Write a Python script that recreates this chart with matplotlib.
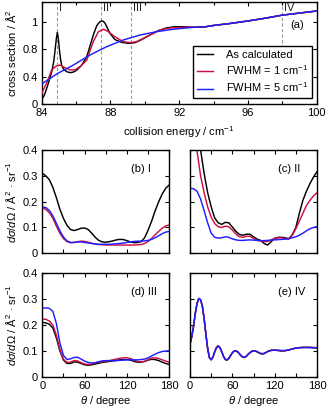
import matplotlib
matplotlib.use("Agg")
import matplotlib.pyplot as plt
from matplotlib.ticker import MultipleLocator

plt.rcParams['font.family'] = ['Liberation Sans', 'DejaVu Sans']
plt.rcParams['font.size'] = 8
plt.rcParams['mathtext.fontset'] = 'custom'
plt.rcParams['mathtext.rm'] = 'Liberation Sans'
plt.rcParams['mathtext.it'] = 'Liberation Sans:italic'

BLACK = '#000000'
RED = '#cc1040'
BLUE = '#1e1eff'

# ---------------- panel (a) data ----------------
e_black = [84.0, 84.15, 84.29, 84.45, 84.58, 84.7, 84.78, 84.85, 84.91, 84.97, 85.03, 85.1, 85.16,
           85.25, 85.36, 85.5, 85.65, 85.8, 85.94, 86.1, 86.33, 86.62, 86.91, 87.05, 87.2, 87.35,
           87.47, 87.58, 87.68, 87.8, 87.97, 88.26, 88.65, 89.04, 89.43, 89.82, 90.3, 90.79, 91.27,
           91.76, 92.24, 92.82, 93.5, 94, 95, 96, 97, 98, 99, 100]
cs_black = [0.07, 0.13, 0.23, 0.36, 0.47, 0.62, 0.79, 0.95, 1.045, 0.95, 0.79, 0.65, 0.57,
            0.52, 0.49, 0.47, 0.46, 0.465, 0.48, 0.51, 0.57, 0.69, 0.93, 1.04, 1.14, 1.19,
            1.21, 1.205, 1.18, 1.12, 1.03, 0.94, 0.90, 0.885, 0.895, 0.94, 1.006, 1.07, 1.11,
            1.127, 1.127, 1.118, 1.125, 1.145, 1.175, 1.21, 1.25, 1.295, 1.325, 1.355]
e_red = [84.0, 84.29, 84.58, 84.85, 85.07, 85.36, 85.65, 85.94, 86.23, 86.62, 86.8, 87.0, 87.3,
         87.6, 87.88, 88.26, 88.75, 89.14, 89.53, 89.92, 90.4, 90.88, 91.45, 92.24, 92.82, 93.5,
         94, 95, 96, 97, 98, 99, 100]
cs_red = [0.16, 0.31, 0.5, 0.556, 0.57, 0.53, 0.5, 0.5, 0.547, 0.64, 0.77, 0.91, 1.055,
          1.09, 1.055, 0.98, 0.91, 0.895, 0.91, 0.96, 1.02, 1.08, 1.108, 1.118, 1.118, 1.125,
          1.145, 1.175, 1.21, 1.25, 1.295, 1.325, 1.355]
e_blue = [84, 84.87, 85.84, 86.81, 87.78, 88.75, 89.72, 90.69, 91.66, 92.82, 93.5, 94, 95, 96,
          97, 98, 99, 100]
cs_blue = [0.295, 0.44, 0.57, 0.716, 0.837, 0.934, 1.006, 1.055, 1.09, 1.118, 1.125, 1.145,
           1.175, 1.21, 1.25, 1.295, 1.325, 1.355]

marker_energies = [84.91, 87.47, 89.18, 97.98]
marker_names = ['I', 'II', 'III', 'IV']

a_yticks = [0, 0.4, 0.8, 1.2]
a_yticklabels = ['0', '0.4', '0.8', '1']
a_xticks = [84, 88, 92, 96, 100]

legend_labels = ['As calculated', 'FWHM = 1 cm$^{-1}$', 'FWHM = 5 cm$^{-1}$']

# ---------------- lower panels data ----------------
theta = list(range(0, 181, 5))

b_black = [0.31, 0.30, 0.285, 0.255, 0.215, 0.17, 0.135, 0.108, 0.092, 0.088, 0.092, 0.097, 0.098,
           0.092, 0.078, 0.062, 0.05, 0.044, 0.043, 0.045, 0.048, 0.052, 0.054, 0.053, 0.049, 0.044,
           0.041, 0.042, 0.045, 0.06, 0.09, 0.125, 0.165, 0.2, 0.23, 0.252, 0.265]
b_red = [0.175, 0.17, 0.157, 0.135, 0.105, 0.077, 0.057, 0.045, 0.041, 0.042, 0.045, 0.047, 0.046,
         0.043, 0.039, 0.036, 0.034, 0.033, 0.032, 0.032, 0.032, 0.032, 0.032, 0.032, 0.032, 0.032,
         0.032, 0.033, 0.034, 0.038, 0.046, 0.058, 0.072, 0.085, 0.097, 0.106, 0.11]
b_blue = [0.18, 0.177, 0.166, 0.145, 0.116, 0.087, 0.063, 0.048, 0.042, 0.042, 0.044, 0.044, 0.042,
          0.04, 0.038, 0.036, 0.035, 0.035, 0.035, 0.035, 0.036, 0.037, 0.038, 0.04, 0.042, 0.044,
          0.046, 0.047, 0.047, 0.048, 0.05, 0.054, 0.06, 0.068, 0.076, 0.082, 0.085]

c_black = [0.62, 0.58, 0.5, 0.4, 0.31, 0.235, 0.18, 0.137, 0.118, 0.112, 0.12, 0.118, 0.102,
           0.085, 0.073, 0.07, 0.074, 0.074, 0.064, 0.055, 0.05, 0.038, 0.032, 0.045, 0.058, 0.062,
           0.062, 0.06, 0.056, 0.072, 0.1, 0.155, 0.205, 0.24, 0.27, 0.295, 0.316]
c_red = [0.55, 0.48, 0.395, 0.3, 0.235, 0.18, 0.14, 0.115, 0.103, 0.1, 0.105, 0.103, 0.09,
         0.075, 0.064, 0.062, 0.066, 0.066, 0.058, 0.05, 0.048, 0.045, 0.046, 0.052, 0.058, 0.06,
         0.06, 0.057, 0.055, 0.07, 0.095, 0.125, 0.155, 0.185, 0.205, 0.222, 0.235]
c_blue = [0.252, 0.25, 0.24, 0.21, 0.165, 0.118, 0.078, 0.062, 0.059, 0.06, 0.064, 0.062, 0.056,
          0.052, 0.05, 0.05, 0.051, 0.052, 0.051, 0.05, 0.049, 0.049, 0.05, 0.051, 0.052, 0.053,
          0.054, 0.055, 0.057, 0.06, 0.064, 0.07, 0.078, 0.087, 0.095, 0.1, 0.103]

d_black = [0.21, 0.208, 0.203, 0.188, 0.15, 0.1, 0.065, 0.052, 0.052, 0.058, 0.057, 0.052, 0.047,
           0.045, 0.047, 0.05, 0.053, 0.056, 0.058, 0.06, 0.062, 0.064, 0.066, 0.067, 0.067, 0.065,
           0.06, 0.057, 0.057, 0.06, 0.065, 0.068, 0.067, 0.063, 0.057, 0.052, 0.048]
d_red = [0.223, 0.222, 0.215, 0.2, 0.16, 0.105, 0.068, 0.056, 0.057, 0.063, 0.062, 0.055, 0.05,
         0.048, 0.05, 0.054, 0.057, 0.059, 0.061, 0.063, 0.066, 0.069, 0.072, 0.074, 0.074, 0.071,
         0.065, 0.06, 0.058, 0.06, 0.067, 0.073, 0.074, 0.071, 0.066, 0.061, 0.057]
d_blue = [0.265, 0.266, 0.264, 0.252, 0.205, 0.13, 0.083, 0.067, 0.07, 0.075, 0.076, 0.069, 0.061,
          0.056, 0.054, 0.055, 0.059, 0.062, 0.063, 0.063, 0.063, 0.063, 0.064, 0.065, 0.066, 0.066,
          0.066, 0.066, 0.067, 0.069, 0.074, 0.081, 0.088, 0.094, 0.098, 0.1, 0.1]

theta_e = [0, 2.5, 5, 7.5, 10, 12.5, 15, 17.5, 20, 22.5, 25, 27.5, 30, 32.5, 35, 37.5, 40, 42.5,
           45, 47.5, 50, 52.5, 55, 57.5, 60, 62.5, 65, 67.5, 70, 72.5, 75, 77.5, 80, 82.5, 85,
           87.5, 90, 92.5, 95, 97.5, 100, 102.5, 105, 107.5, 110, 115, 120, 125, 130, 135, 140,
           145, 150, 155, 160, 165, 170, 175, 180]
e_blue_dcs = [0.126, 0.155, 0.195, 0.245, 0.283, 0.302, 0.297, 0.272, 0.225, 0.165, 0.11, 0.075,
              0.067, 0.077, 0.097, 0.113, 0.119, 0.112, 0.097, 0.08, 0.069, 0.066, 0.071, 0.082,
              0.092, 0.099, 0.1, 0.097, 0.09, 0.082, 0.077, 0.076, 0.08, 0.087, 0.093, 0.098, 0.1,
              0.1, 0.098, 0.094, 0.091, 0.09, 0.091, 0.094, 0.098, 0.102, 0.103, 0.103, 0.102,
              0.102, 0.104, 0.108, 0.111, 0.112, 0.113, 0.113, 0.113, 0.112, 0.112]
e_red_dcs = [0.126, 0.155, 0.195, 0.245, 0.283, 0.302, 0.297, 0.272, 0.225, 0.165, 0.11, 0.074,
             0.066, 0.076, 0.097, 0.113, 0.12, 0.113, 0.097, 0.079, 0.067, 0.065, 0.071, 0.083,
             0.093, 0.1, 0.101, 0.097, 0.089, 0.081, 0.076, 0.075, 0.08, 0.088, 0.094, 0.099, 0.101,
             0.1, 0.097, 0.093, 0.09, 0.089, 0.09, 0.094, 0.098, 0.103, 0.103, 0.102, 0.1,
             0.101, 0.104, 0.108, 0.111, 0.113, 0.114, 0.114, 0.114, 0.113, 0.113]
e_black_dcs = list(e_red_dcs)

panel_names = ['(b) I', '(c) II', '(d) III', '(e) IV']
dcs_yticks = [0, 0.1, 0.2, 0.3, 0.4]
dcs_xticks = [0, 60, 120, 180]

# ---------------- figure ----------------
W, H = 327, 409
fig = plt.figure(figsize=(W / 100, H / 100), dpi=100)


def rect(x0, y0, x1, y1):
    return [x0 / W, 1 - y1 / H, (x1 - x0) / W, (y1 - y0) / H]


def style(ax):
    for s in ax.spines.values():
        s.set_linewidth(1.0)
    ax.tick_params(which='both', direction='in', top=True, right=True, width=0.8)
    ax.tick_params(which='major', length=3.2, pad=3.0, labelsize=8)
    ax.tick_params(which='minor', length=2.0)


LW = 1.05
axa = fig.add_axes(rect(41.7, 1.7, 316.7, 104.3))
style(axa)
for e in marker_energies:
    axa.axvline(e, color='#999999', lw=0.8, ls=(0, (3, 2)), zorder=1)
for e, n in zip(marker_energies, marker_names):
    axa.text(e + 0.12, 1.40, n, ha='left', va='center', fontsize=8, color='#222222')
axa.plot(e_black, cs_black, color=BLACK, lw=LW, label=legend_labels[0], zorder=3)
axa.plot(e_red, cs_red, color=RED, lw=LW, label=legend_labels[1], zorder=4)
axa.plot(e_blue, cs_blue, color=BLUE, lw=LW, label=legend_labels[2], zorder=5)
axa.set_xlim(84, 100)
axa.set_ylim(0, 1.49)
axa.set_xticks(a_xticks)
axa.xaxis.set_minor_locator(MultipleLocator(2))
axa.set_yticks(a_yticks)
axa.set_yticklabels(a_yticklabels)
axa.set_xlabel('collision energy / cm$^{-1}$')
axa.set_ylabel('cross section / Å$^2$')
axa.xaxis.set_label_coords(0.5, -0.19)
axa.yaxis.set_label_coords(-0.085, 0.5)
axa.text(0.905, 0.773, '(a)', transform=axa.transAxes, ha='left', va='center', fontsize=8)
leg = axa.legend(loc='lower right', bbox_to_anchor=(0.982, 0.058), frameon=True, fancybox=False,
                 edgecolor='black', framealpha=1, borderpad=0.35, handlelength=1.45,
                 handletextpad=1.15, labelspacing=0.3, borderaxespad=0, fontsize=8)
leg.get_frame().set_linewidth(1.0)

cols = [(42.3, 169.3), (190.0, 317.0)]
rows = [(150.0, 253.3), (273.0, 377.0)]
panels = [
    (theta, b_black, theta, b_red, theta, b_blue),
    (theta, c_black, theta, c_red, theta, c_blue),
    (theta, d_black, theta, d_red, theta, d_blue),
    (theta_e, e_black_dcs, theta_e, e_red_dcs, theta_e, e_blue_dcs),
]
for i, data in enumerate(panels):
    r, c = divmod(i, 2)
    x0, x1 = cols[c]
    y0, y1 = rows[r]
    ax = fig.add_axes(rect(x0, y0, x1, y1))
    style(ax)
    ax.plot(data[0], data[1], color=BLACK, lw=LW)
    ax.plot(data[2], data[3], color=RED, lw=LW)
    ax.plot(data[4], data[5], color=BLUE, lw=LW)
    ax.set_xlim(0, 180)
    ax.set_ylim(0, 0.4)
    ax.set_xticks(dcs_xticks)
    ax.xaxis.set_minor_locator(MultipleLocator(30))
    ax.set_yticks(dcs_yticks)
    ax.tick_params(which='minor', length=3.2)
    if c == 0:
        ax.set_yticklabels(['0', '0.1', '0.2', '0.3', '0.4'])
        ax.set_ylabel(r'$d\sigma/d\Omega$ / Å$^2$ · sr$^{-1}$')
        ax.yaxis.set_label_coords(-0.19, 0.5)
    else:
        ax.set_yticklabels([])
    if r == 1:
        ax.set_xticklabels(['0', '60', '120', '180'])
        ax.set_xlabel(r'$\theta$ / degree')
        ax.xaxis.set_label_coords(0.5, -0.165)
    else:
        ax.set_xticklabels([])
    ax.text(0.695, 0.82, panel_names[i], transform=ax.transAxes, ha='left', va='center',
            fontsize=8)

fig.savefig('out.png', dpi=100)
